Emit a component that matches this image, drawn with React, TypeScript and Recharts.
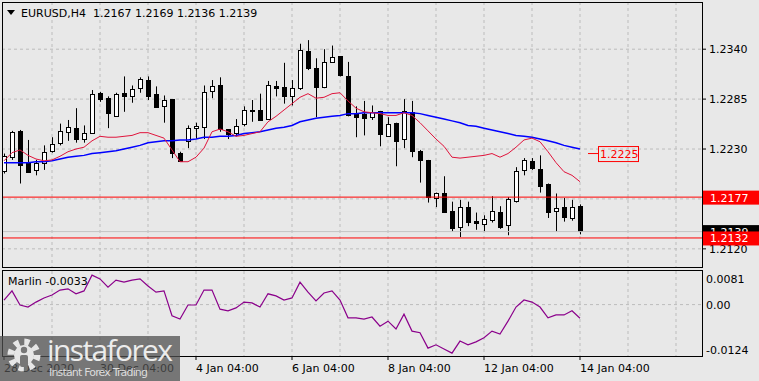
import {
  ComposedChart, Bar, Line, XAxis, YAxis, CartesianGrid,
  ReferenceLine, ReferenceDot,
} from 'recharts';

const FONT = "'DejaVu Sans', Verdana, sans-serif";

// EURUSD H4 candles
const opens = [
  1.2206, 1.2221, 1.2250, 1.2215, 1.2207, 1.2215, 1.2228, 1.2237, 1.2249, 1.2253,
  1.2241, 1.2248, 1.2292, 1.2286, 1.2267, 1.2292, 1.2288, 1.2297, 1.2306, 1.2291,
  1.2277, 1.2285, 1.2226, 1.2239, 1.2253, 1.2254, 1.2293, 1.2300, 1.2252, 1.2247,
  1.2258, 1.2272, 1.2273, 1.2262, 1.2299, 1.2298, 1.2288, 1.2297, 1.2338, 1.2319,
  1.2298, 1.2325, 1.2332, 1.2311, 1.2269, 1.2269, 1.2266, 1.2272, 1.2245, 1.2259,
  1.2241, 1.2271, 1.2228, 1.2218, 1.2177, 1.2181, 1.2162, 1.2144, 1.2166, 1.2151,
  1.2148, 1.2152, 1.2161, 1.2146, 1.2173, 1.2207, 1.2217, 1.2208, 1.2191, 1.2162,
  1.2166, 1.2154, 1.2167,
];
const highs = [
  1.2225, 1.2250, 1.2251, 1.2240, 1.2218, 1.2234, 1.2243, 1.2258, 1.2262, 1.2275,
  1.2256, 1.2295, 1.2293, 1.2288, 1.2292, 1.2310, 1.2300, 1.2309, 1.2310, 1.2299,
  1.2289, 1.2285, 1.2227, 1.2256, 1.2259, 1.2300, 1.2306, 1.2309, 1.2252, 1.2263,
  1.2277, 1.2284, 1.2291, 1.2305, 1.2305, 1.2325, 1.2306, 1.2346, 1.2350, 1.2330,
  1.2340, 1.2344, 1.2332, 1.2326, 1.2277, 1.2283, 1.2278, 1.2272, 1.2265, 1.2259,
  1.2285, 1.2283, 1.2229, 1.2218, 1.2182, 1.2200, 1.2172, 1.2174, 1.2172, 1.2160,
  1.2157, 1.2178, 1.2167, 1.2177, 1.2210, 1.2220, 1.2220, 1.2223, 1.2192, 1.2181,
  1.2176, 1.2174, 1.2169,
];
const lows = [
  1.2203, 1.2218, 1.2192, 1.2204, 1.2201, 1.2207, 1.2226, 1.2234, 1.2239, 1.2237,
  1.2237, 1.2247, 1.2282, 1.2253, 1.2267, 1.2271, 1.2281, 1.2292, 1.2284, 1.2276,
  1.2259, 1.2220, 1.2216, 1.2231, 1.2241, 1.2241, 1.2286, 1.2249, 1.2241, 1.2244,
  1.2255, 1.2260, 1.2261, 1.2262, 1.2288, 1.2280, 1.2278, 1.2295, 1.2317, 1.2265,
  1.2297, 1.2325, 1.2310, 1.2266, 1.2243, 1.2245, 1.2262, 1.2233, 1.2245, 1.2211,
  1.2231, 1.2221, 1.2193, 1.2171, 1.2166, 1.2160, 1.2139, 1.2133, 1.2145, 1.2141,
  1.2139, 1.2149, 1.2142, 1.2135, 1.2171, 1.2201, 1.2207, 1.2182, 1.2154, 1.2139,
  1.2150, 1.2151, 1.2136,
];
const closes = [
  1.2222, 1.2249, 1.2212, 1.2205, 1.2215, 1.2227, 1.2236, 1.2250, 1.2254, 1.2241,
  1.2248, 1.2291, 1.2285, 1.2269, 1.2291, 1.2289, 1.2296, 1.2307, 1.2288, 1.2277,
  1.2284, 1.2225, 1.2217, 1.2253, 1.2255, 1.2293, 1.2299, 1.2252, 1.2247, 1.2255,
  1.2273, 1.2273, 1.2262, 1.2300, 1.2297, 1.2288, 1.2297, 1.2339, 1.2319, 1.2298,
  1.2326, 1.2331, 1.2311, 1.2268, 1.2266, 1.2265, 1.2271, 1.2247, 1.2258, 1.2239,
  1.2272, 1.2228, 1.2218, 1.2177, 1.2182, 1.2160, 1.2143, 1.2166, 1.2150, 1.2149,
  1.2153, 1.2162, 1.2144, 1.2175, 1.2206, 1.2218, 1.2209, 1.2189, 1.2160, 1.2165,
  1.2155, 1.2166, 1.2139,
];

// moving averages (red = fast, blue = slow)
const maFast = [
  1.2217, 1.2226, 1.2229, 1.2223, 1.2219, 1.2217, 1.2218, 1.2222, 1.2227, 1.2230,
  1.2232, 1.2239, 1.2244, 1.2243, 1.2243, 1.2244, 1.2245, 1.2248, 1.2248, 1.2245,
  1.2242, 1.2229, 1.2216, 1.2216, 1.2221, 1.2231, 1.2249, 1.2252, 1.2249, 1.2244,
  1.2245, 1.2247, 1.2249, 1.2260, 1.2266, 1.2273, 1.2280, 1.2287, 1.2291, 1.2286,
  1.2287, 1.2291, 1.2292, 1.2283, 1.2275, 1.2271, 1.2270, 1.2269, 1.2267, 1.2267,
  1.2270, 1.2267, 1.2259, 1.2250, 1.2241, 1.2233, 1.2221, 1.2220, 1.2221, 1.2222,
  1.2223, 1.2225, 1.2221, 1.2225, 1.2232, 1.2240, 1.2242, 1.2238, 1.2227, 1.2215,
  1.2205, 1.2201, 1.2194,
];
const maSlow = [
  1.2215, 1.2215, 1.2215, 1.2215, 1.2216, 1.2216, 1.2217, 1.2219, 1.2221, 1.2222,
  1.2223, 1.2225, 1.2226, 1.2227, 1.2228, 1.2230, 1.2232, 1.2234, 1.2237, 1.2238,
  1.2239, 1.2239, 1.2240, 1.2240, 1.2241, 1.2243, 1.2243, 1.2244, 1.2244, 1.2245,
  1.2247, 1.2248, 1.2249, 1.2251, 1.2253, 1.2254, 1.2256, 1.2260, 1.2262, 1.2264,
  1.2265, 1.2266, 1.2267, 1.2269, 1.2269, 1.2270, 1.2270, 1.2270, 1.2270, 1.2270,
  1.2270, 1.2270, 1.2269, 1.2267, 1.2265, 1.2263, 1.2261, 1.2259, 1.2256, 1.2255,
  1.2253, 1.2251, 1.2249, 1.2247, 1.2245, 1.2244, 1.2243, 1.2241, 1.2239, 1.2237,
  1.2234, 1.2232, 1.2230,
];

const marlin = [
  0.0011, 0.0033, -0.0001, -0.0006, 0.0006, 0.0016, 0.0023, 0.0035, 0.0038, 0.0026,
  0.0033, 0.0071, 0.0062, 0.0042, 0.0059, 0.0054, 0.0059, 0.0062, 0.0045, 0.0030,
  0.0033, -0.0027, -0.0035, -0.0001, -0.0001, 0.0035, 0.0035, -0.0011, -0.0015, -0.0008,
  0.0006, 0.0004, -0.0006, 0.0026, 0.0021, 0.0011, 0.0016, 0.0054, 0.0030, 0.0009,
  0.0028, 0.0033, 0.0011, -0.0032, -0.0032, -0.0035, -0.0030, -0.0052, -0.0040, -0.0059,
  -0.0023, -0.0064, -0.0068, -0.0105, -0.0097, -0.0107, -0.0117, -0.0088, -0.0097, -0.0090,
  -0.0080, -0.0064, -0.0071, -0.0040, -0.0006, 0.0011, 0.0006, -0.0006, -0.0032, -0.0025,
  -0.0025, -0.0015, -0.0033,
];

const timeTickIdx = [0, 12, 24, 36, 48, 60, 72];
const timeLabels = ['28 Dec 2020', '30 Dec 04:00', '4 Jan 04:00', '6 Jan 04:00', '8 Jan 04:00', '12 Jan 04:00', '14 Jan 04:00'];
const gridIdx = [6, 12, 18, 24, 30, 36, 42, 48, 54, 60, 66, 72, 78, 84];
const priceTicks = [1.2340, 1.2285, 1.2230, 1.2175, 1.2120];
const priceDomain = [1.2100, 1.2392];
const marlinTicks = [0.0081, 0, -0.0124];
const xDomain = [-0.25, 87.25];

const resistance = 1.2177;
const support = 1.2132;
const maTag = 1.2225;

const candles = opens.map((o, i) => ({
  i, o, h: highs[i], l: lows[i], c: closes[i],
  fast: maFast[i], slow: maSlow[i], marlin: marlin[i],
}));
const last = candles[candles.length - 1];

const Candle = (props: any) => {
  const { x, y, width, height, payload } = props;
  if (x == null || y == null) return null;
  const cx = Math.round(x + width / 2) + 0.5;
  const top = Math.min(y, y + height);
  const span = Math.abs(height);
  const k = payload.h > payload.l ? span / (payload.h - payload.l) : 0;
  const bTop = top + (payload.h - Math.max(payload.o, payload.c)) * k;
  const bBot = top + (payload.h - Math.min(payload.o, payload.c)) * k;
  const up = payload.c >= payload.o;
  return (
    <g>
      <line x1={cx} x2={cx} y1={top} y2={top + span} stroke="#000" />
      <rect
        x={cx - 2} y={Math.round(bTop) + 0.5}
        width={4} height={Math.max(1, Math.round(bBot - bTop))}
        fill={up ? '#fff' : '#000'} stroke="#000"
      />
    </g>
  );
};

// price label boxes on the right-hand scale
const sideTag = (bg: string, label: string) => (p: any) => (
  <g>
    <rect x={p.cx + 1} y={p.cy - 6.5} width={57} height={14} fill={bg} />
    <text x={p.cx + 8} y={p.cy + 4.5} fill="#fff" fontSize={11} fontFamily={FONT}>{label}</text>
  </g>
);

const floatTag = (p: any) => (
  <g>
    <line x1={p.cx - 10} x2={p.cx} y1={p.cy} y2={p.cy} stroke="#ff0000" />
    <rect x={p.cx + 0.5} y={p.cy - 7} width={40} height={15} fill="none" stroke="#ff0000" />
    <text x={p.cx + 2} y={p.cy + 4.5} fill="#ff0000" fontSize={11} fontFamily={FONT}>{maTag.toFixed(4)}</text>
  </g>
);

const MarlinTick = (props: any) => {
  const { x, y, payload } = props;
  const v = payload.value;
  const shift = v === marlinTicks[0] ? 8 : v === marlinTicks[2] ? -6 : 1;
  return (
    <text x={x} y={y + shift} dy="0.355em" textAnchor="start" fontSize={11} fill="#000" fontFamily={FONT}>
      {v === 0 ? '0.00' : v.toFixed(4)}
    </text>
  );
};

export default function App() {
  return (
    <div style={{ position: 'absolute', left: 0, top: 0, width: 759, height: 381, background: '#e8e8e8', fontFamily: FONT, overflow: 'hidden' }}>
      <div style={{ position: 'absolute', left: 0, top: 0 }}>
        <ComposedChart width={759} height={270} data={candles} margin={{ top: 2, right: 0, bottom: 3, left: 2 }}>
          <CartesianGrid stroke="#bcbcbc" strokeDasharray="3 3" horizontalValues={priceTicks} verticalValues={gridIdx} />
          <XAxis dataKey="i" type="number" domain={xDomain} hide allowDataOverflow />
          <YAxis
            orientation="right" width={57} domain={priceDomain} ticks={priceTicks} allowDataOverflow
            axisLine={false} tickLine={{ stroke: '#000' }} tickSize={4} tickMargin={3} interval={0}
            tick={{ fontSize: 11, fill: '#000', fontFamily: FONT }}
            tickFormatter={(v: number) => v.toFixed(4)}
          />
          <ReferenceLine y={last.c} stroke="#c4c4c4" />
          <ReferenceLine y={resistance} stroke="#ff0000" />
          <ReferenceLine y={support} stroke="#ff0000" />
          <Bar dataKey={(d: any) => [d.l, d.h]} shape={Candle} isAnimationActive={false} />
          <Line type="linear" dataKey="slow" stroke="#0000ff" strokeWidth={1.5} dot={false} isAnimationActive={false} />
          <Line type="linear" dataKey="fast" stroke="#e0143c" strokeWidth={1} dot={false} isAnimationActive={false} />
          <ReferenceDot x={74.25} y={maTag} ifOverflow="visible" shape={floatTag} zIndex={3000} />
          <ReferenceDot x={xDomain[1]} y={last.c} ifOverflow="visible" shape={sideTag('#000', last.c.toFixed(4))} zIndex={3000} />
          <ReferenceDot x={xDomain[1]} y={resistance} ifOverflow="visible" shape={sideTag('#ff0000', resistance.toFixed(4))} zIndex={3001} />
          <ReferenceDot x={xDomain[1]} y={support} ifOverflow="visible" shape={sideTag('#ff0000', support.toFixed(4))} zIndex={3002} />
        </ComposedChart>
      </div>
      <div style={{ position: 'absolute', left: 0, top: 270 }}>
        <ComposedChart width={759} height={111} data={candles} margin={{ top: 1, right: 0, bottom: 0, left: 2 }}>
          <CartesianGrid stroke="#bcbcbc" strokeDasharray="3 3" horizontalValues={[0]} verticalValues={gridIdx} />
          <XAxis
            dataKey="i" type="number" domain={xDomain} ticks={timeTickIdx} interval={0} allowDataOverflow
            height={25} axisLine={false} tickLine={{ stroke: '#000' }} tickSize={4} tickMargin={4}
            tick={{ fontSize: 11, fill: '#000', textAnchor: 'start', fontFamily: FONT }}
            tickFormatter={(v: number) => timeLabels[timeTickIdx.indexOf(v)]}
          />
          <YAxis
            orientation="right" width={57} domain={[marlinTicks[2], marlinTicks[0]]} ticks={marlinTicks}
            allowDataOverflow axisLine={false} tickLine={false} tickSize={4} tickMargin={0} interval={0}
            tick={<MarlinTick />}
          />
          <Line type="linear" dataKey="marlin" stroke="#8b008b" strokeWidth={1.2} dot={false} isAnimationActive={false} />
        </ComposedChart>
      </div>
      <svg width={759} height={381} style={{ position: 'absolute', left: 0, top: 0, pointerEvents: 'none' }}>
        <rect x={2.5} y={2.5} width={700} height={265} fill="none" stroke="#000" />
        <rect x={2.5} y={270.5} width={700} height={86} fill="none" stroke="#000" />
        <polygon points="7,10 15,10 11,15" fill="#000" />
        <text x={21} y={17} fontSize={11} fill="#000" fontFamily={FONT} style={{ whiteSpace: 'pre' }}>
          {`EURUSD,H4  ${last.o.toFixed(4)} ${last.h.toFixed(4)} ${last.l.toFixed(4)} ${last.c.toFixed(4)}`}
        </text>
        <text x={8} y={285} fontSize={11} fill="#000" fontFamily={FONT}>
          {`Marlin ${last.marlin.toFixed(4)}`}
        </text>
        {/* instaforex watermark */}
        <rect x={0} y={336} width={180} height={45} fill="rgb(80,80,80)" fillOpacity={0.75} />
        <circle cx={24} cy={355} r={13} fill="none" stroke="#e6e6e6" strokeWidth={7} strokeDasharray="5 5.2" />
        <circle cx={24} cy={355} r={10} fill="#e6e6e6" />
        <circle cx={24} cy={350} r={3.2} fill="#767676" />
        <rect x={20} y={355} width={8} height={12} rx={2} fill="#767676" />
        <text x={47} y={361} fontSize={30} fill="#ececec" fontFamily="'Open Sans', sans-serif" textLength={126}>instaforex</text>
        <text x={49} y={376} fontSize={11} fill="#dcdcdc" fontFamily={FONT} textLength={99}>Instant Forex Trading</text>
      </svg>
    </div>
  );
}
